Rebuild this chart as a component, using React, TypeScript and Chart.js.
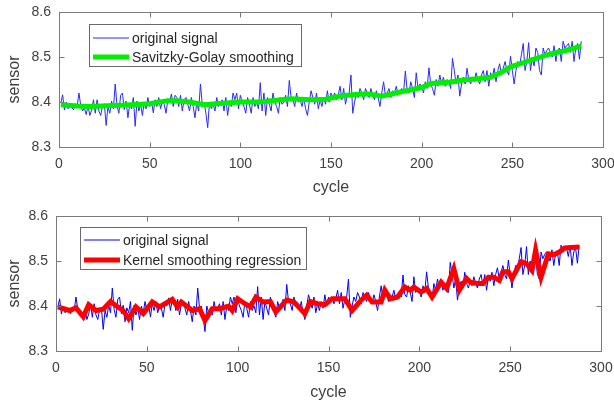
import { useEffect, useRef } from "react";
import { Chart, registerables } from "chart.js";

Chart.register(...registerables);

// ---------------- data ----------------
const signal = [
  8.398, 8.416, 8.382, 8.400, 8.385, 8.395, 8.388, 8.383, 8.396, 8.390,
  8.420, 8.392, 8.380, 8.387, 8.372, 8.392, 8.370, 8.382, 8.405, 8.375,
  8.405, 8.380, 8.370, 8.392, 8.396, 8.348, 8.390, 8.375, 8.402, 8.385,
  8.440, 8.392, 8.375, 8.415, 8.420, 8.383, 8.402, 8.365, 8.396, 8.385,
  8.410, 8.346, 8.402, 8.380, 8.395, 8.370, 8.400, 8.385, 8.410, 8.390,
  8.402, 8.376, 8.405, 8.390, 8.410, 8.385, 8.400, 8.395, 8.375, 8.405,
  8.400, 8.418, 8.390, 8.415, 8.410, 8.390, 8.415, 8.380, 8.405, 8.410,
  8.395, 8.380, 8.410, 8.390, 8.365, 8.400, 8.380, 8.440, 8.395, 8.400,
  8.375, 8.343, 8.400, 8.385, 8.395, 8.380, 8.410, 8.390, 8.395, 8.405,
  8.380, 8.410, 8.370, 8.400, 8.390, 8.420, 8.405, 8.420, 8.385, 8.415,
  8.400, 8.390, 8.375, 8.410, 8.395, 8.375, 8.410, 8.390, 8.400, 8.385,
  8.443, 8.380, 8.420, 8.370, 8.410, 8.395, 8.380, 8.420, 8.400, 8.390,
  8.375, 8.410, 8.395, 8.400, 8.415, 8.390, 8.448, 8.410, 8.405, 8.390,
  8.420, 8.400, 8.405, 8.390, 8.410, 8.385, 8.370, 8.400, 8.425, 8.410,
  8.395, 8.420, 8.385, 8.405, 8.390, 8.410, 8.395, 8.425, 8.400, 8.420,
  8.410, 8.420, 8.405, 8.415, 8.435, 8.405, 8.430, 8.395, 8.415, 8.420,
  8.460, 8.375, 8.400, 8.420, 8.410, 8.430, 8.420, 8.405, 8.430, 8.420,
  8.410, 8.430, 8.415, 8.405, 8.425, 8.410, 8.390, 8.420, 8.445, 8.415,
  8.420, 8.430, 8.410, 8.425, 8.420, 8.435, 8.415, 8.425, 8.430, 8.420,
  8.469, 8.425, 8.420, 8.445, 8.430, 8.410, 8.465, 8.430, 8.440, 8.435,
  8.420, 8.445, 8.430, 8.476, 8.440, 8.430, 8.415, 8.450, 8.435, 8.460,
  8.440, 8.455, 8.435, 8.450, 8.445, 8.430, 8.497, 8.470, 8.440, 8.460,
  8.413, 8.440, 8.455, 8.440, 8.475, 8.450, 8.440, 8.455, 8.445, 8.465,
  8.450, 8.440, 8.460, 8.470, 8.445, 8.470, 8.435, 8.465, 8.455, 8.475,
  8.445, 8.470, 8.485, 8.460, 8.475, 8.490, 8.470, 8.460, 8.502, 8.470,
  8.440, 8.470, 8.490, 8.480, 8.505, 8.530, 8.470, 8.490, 8.532, 8.470,
  8.500, 8.480, 8.520, 8.510, 8.470, 8.460, 8.520, 8.505, 8.515, 8.520,
  8.510, 8.500, 8.525, 8.490, 8.515, 8.520, 8.490, 8.535, 8.520, 8.525,
  8.530, 8.510, 8.535, 8.490, 8.520, 8.530, 8.495, 8.535,
];

const sgCycle = [1, 10, 17, 30, 40, 50, 60, 65, 72, 80, 90, 100, 110, 120, 128, 138, 147, 156, 165, 171, 178, 190, 200, 205, 215, 223, 232, 238, 244, 249, 258, 270, 280, 288];
const sgValue = [8.394, 8.391, 8.390, 8.392, 8.394, 8.396, 8.403, 8.403, 8.400, 8.394, 8.397, 8.400, 8.400, 8.404, 8.407, 8.405, 8.406, 8.414, 8.417, 8.418, 8.413, 8.424, 8.432, 8.441, 8.444, 8.449, 8.452, 8.455, 8.466, 8.478, 8.490, 8.506, 8.515, 8.524];

const ksrCycle = [1, 7.5, 11, 15, 18, 22, 26, 30, 34, 37, 40, 44, 48, 53, 57, 64, 67, 69, 75, 79, 82, 86, 90, 95, 97, 100, 104, 107, 110, 114, 118, 121, 127, 131, 137, 140, 144, 148, 152, 159, 163, 168, 171, 174, 179, 181, 184, 188, 192, 195, 197, 201, 204, 207, 212, 215, 219, 222, 226, 228, 232, 235, 238, 241, 244, 246, 249, 251, 256, 259, 262, 264, 267, 271, 274, 277, 280, 288];
const ksrValue = [8.398, 8.390, 8.396, 8.376, 8.403, 8.390, 8.393, 8.410, 8.398, 8.390, 8.372, 8.398, 8.383, 8.409, 8.398, 8.415, 8.398, 8.409, 8.390, 8.394, 8.368, 8.394, 8.394, 8.400, 8.390, 8.416, 8.405, 8.398, 8.420, 8.409, 8.410, 8.387, 8.413, 8.409, 8.383, 8.410, 8.405, 8.403, 8.416, 8.416, 8.390, 8.413, 8.424, 8.409, 8.409, 8.435, 8.416, 8.420, 8.442, 8.435, 8.442, 8.431, 8.439, 8.420, 8.453, 8.439, 8.483, 8.435, 8.461, 8.453, 8.450, 8.450, 8.464, 8.464, 8.457, 8.476, 8.476, 8.461, 8.498, 8.494, 8.479, 8.524, 8.464, 8.516, 8.514, 8.520, 8.529, 8.531];

const xTicks = [0, 50, 100, 150, 200, 250, 300];
const yTicks = [8.3, 8.4, 8.5, 8.6];

// ---------------- styling helpers ----------------
const FONT = "'Liberation Sans', Arial, sans-serif";
const TEXT = "#262626";
const AXIS = "#7a7a7a";

const framePlugin = {
  id: "frame",
  afterDraw(chart: any, _args: any, opts: any) {
    const { ctx, chartArea: a, scales } = chart;
    ctx.save();
    ctx.strokeStyle = AXIS;
    ctx.lineWidth = 1;
    const L = Math.round(a.left) + 0.5;
    const R = Math.round(a.right) + 0.5;
    const T = Math.round(a.top) + 0.5;
    const B = Math.round(a.bottom) + 0.5;
    ctx.strokeRect(L, T, R - L, B - T);
    const tl = 5;
    ctx.beginPath();
    scales.x.ticks.forEach((t: any) => {
      const px = Math.round(scales.x.getPixelForValue(t.value)) + 0.5;
      ctx.moveTo(px, B); ctx.lineTo(px, B - tl);
      ctx.moveTo(px, T); ctx.lineTo(px, T + tl);
    });
    scales.y.ticks.forEach((t: any) => {
      const py = Math.round(scales.y.getPixelForValue(t.value)) + 0.5;
      ctx.moveTo(L, py); ctx.lineTo(L + tl, py);
      ctx.moveTo(R, py); ctx.lineTo(R - tl, py);
    });
    ctx.stroke();

    // legend box
    const lg = opts.legend;
    if (lg) {
      ctx.fillStyle = "#ffffff";
      ctx.fillRect(lg.x, lg.y, lg.w, lg.h);
      ctx.strokeStyle = "#6a6a6a";
      ctx.strokeRect(lg.x + 0.5, lg.y + 0.5, lg.w, lg.h);
      ctx.font = `14px ${FONT}`;
      ctx.textBaseline = "middle";
      ctx.textAlign = "left";
      chart.data.datasets.forEach((ds: any, i: number) => {
        const yy = lg.y + lg.rowY[i];
        ctx.strokeStyle = ds.borderColor;
        ctx.lineWidth = ds.borderWidth;
        ctx.beginPath();
        ctx.moveTo(lg.x + 4, yy);
        ctx.lineTo(lg.x + 40, yy);
        ctx.stroke();
        ctx.fillStyle = TEXT;
        ctx.fillText(ds.label, lg.x + 43, yy + 1);
      });
    }
    ctx.restore();
  },
};

function makeOptions(pad: any, leftW: number, bottomH: number, legend: any): any {
  return {
    animation: false,
    responsive: false,
    layout: { padding: pad },
    plugins: {
      legend: { display: false },
      tooltip: { enabled: false },
      frame: { legend },
    },
    elements: { point: { radius: 0 }, line: { tension: 0 } },
    scales: {
      x: {
        type: "linear",
        min: 0,
        max: 300,
        afterBuildTicks: (s: any) => { s.ticks = xTicks.map((v) => ({ value: v })); },
        afterFit: (s: any) => { s.height = bottomH; s.paddingLeft = 0; s.paddingRight = 0; },
        grid: { display: false, drawTicks: false },
        border: { display: false },
        ticks: { color: "#404040", font: { family: FONT, size: 14 }, padding: 9, maxRotation: 0 },
        title: { display: true, text: "cycle", color: "#404040", font: { family: FONT, size: 16 }, padding: { top: 0, bottom: 3 } },
      },
      y: {
        type: "linear",
        min: 8.3,
        max: 8.6,
        afterBuildTicks: (s: any) => { s.ticks = yTicks.map((v) => ({ value: v })); },
        afterFit: (s: any) => { s.width = leftW; s.paddingTop = 0; s.paddingBottom = 0; },
        grid: { display: false, drawTicks: false },
        border: { display: false },
        ticks: { color: "#404040", font: { family: FONT, size: 14 }, padding: 8, callback: (v: any) => Number(v).toFixed(1) },
        title: { display: true, text: "sensor", color: "#404040", font: { family: FONT, size: 16 }, padding: { top: 5, bottom: 0 } },
      },
    },
  };
}

const signalPoints = signal.map((v, i) => ({ x: i + 1, y: v }));
const sgPoints = sgCycle.map((c, i) => ({ x: c, y: sgValue[i] }));
const ksrPoints = ksrCycle.map((c, i) => ({ x: c, y: ksrValue[i] }));

export default function App() {
  const topRef = useRef<HTMLCanvasElement>(null);
  const botRef = useRef<HTMLCanvasElement>(null);

  useEffect(() => {
    const top = new Chart(topRef.current as HTMLCanvasElement, {
      type: "line",
      data: {
        datasets: [
          { label: "original signal", data: signalPoints, borderColor: "#2a2aff", borderWidth: 1, order: 2 },
          { label: "Savitzky-Golay smoothing", data: sgPoints, borderColor: "#00ee00", borderWidth: 5, order: 1 },
        ],
      },
      options: makeOptions({ top: 12, right: 11, left: 0, bottom: 0 }, 59, 53, { x: 89, y: 24, w: 212, h: 42, rowY: [14, 33] }),
      plugins: [framePlugin],
    } as any);

    const bot = new Chart(botRef.current as HTMLCanvasElement, {
      type: "line",
      data: {
        datasets: [
          { label: "original signal", data: signalPoints, borderColor: "#0000ff", borderWidth: 1, order: 2 },
          { label: "Kernel smoothing regression", data: ksrPoints, borderColor: "#ff0000", borderWidth: 5, order: 1 },
        ],
      },
      options: makeOptions({ top: 16, right: 13, left: 0, bottom: 0 }, 56, 54, { x: 80, y: 27, w: 226, h: 42, rowY: [13, 33] }),
      plugins: [framePlugin],
    } as any);

    return () => { top.destroy(); bot.destroy(); };
  }, []);

  return (
    <div style={{ position: "absolute", left: 0, top: 0, width: 614, height: 405, background: "#fff" }}>
      <canvas ref={topRef} width={614} height={200} style={{ position: "absolute", left: 0, top: 0, width: 614, height: 200 }} />
      <canvas ref={botRef} width={614} height={205} style={{ position: "absolute", left: 0, top: 200, width: 614, height: 205 }} />
    </div>
  );
}
